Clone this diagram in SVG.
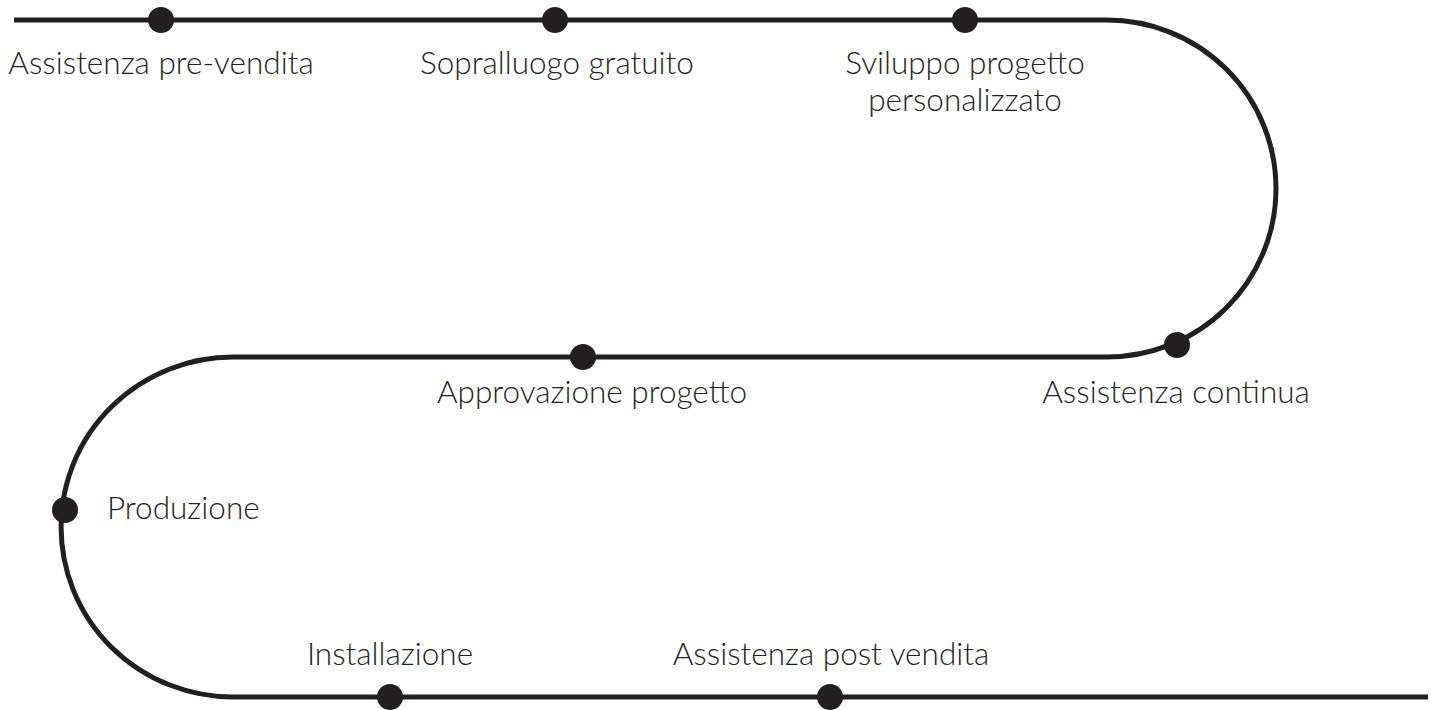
<svg xmlns="http://www.w3.org/2000/svg" width="1440" height="710" viewBox="0 0 1440 710">
<style>
.path{fill:none;stroke:#231f20;stroke-width:5}
.dot{fill:#231f20}
.lbl{font-family:Lato,"Liberation Sans",sans-serif;font-weight:300;font-size:31.5px;fill:#231f20;text-anchor:middle}
</style>
<rect width="1440" height="710" fill="#fff"/>
<g id="connectors">
<path class="path" d="M14,20 H1107 A169,168.5 0 0 1 1107,357 H233 A172,170 0 0 0 233,697 H1428"/>
</g>
<g id="n1"><circle class="dot" cx="161" cy="20" r="13"/><text class="lbl" x="161" y="74">Assistenza pre-vendita</text></g>
<g id="n2"><circle class="dot" cx="555" cy="20" r="13"/><text class="lbl" x="557" y="74">Sopralluogo gratuito</text></g>
<g id="n3"><circle class="dot" cx="965" cy="20" r="13"/><text class="lbl" x="965" y="74">Sviluppo progetto</text><text class="lbl" x="965" y="111">personalizzato</text></g>
<g id="n4"><circle class="dot" cx="1177" cy="345" r="13"/><text class="lbl" x="1176" y="403">Assistenza continua</text></g>
<g id="n5"><circle class="dot" cx="583" cy="357" r="13"/><text class="lbl" x="592" y="403">Approvazione progetto</text></g>
<g id="n6"><circle class="dot" cx="65" cy="510" r="13"/><text class="lbl" x="107" y="519" style="text-anchor:start">Produzione</text></g>
<g id="n7"><circle class="dot" cx="390" cy="697" r="13"/><text class="lbl" x="390" y="665">Installazione</text></g>
<g id="n8"><circle class="dot" cx="830" cy="697" r="13"/><text class="lbl" x="831" y="665">Assistenza post vendita</text></g>
</svg>
